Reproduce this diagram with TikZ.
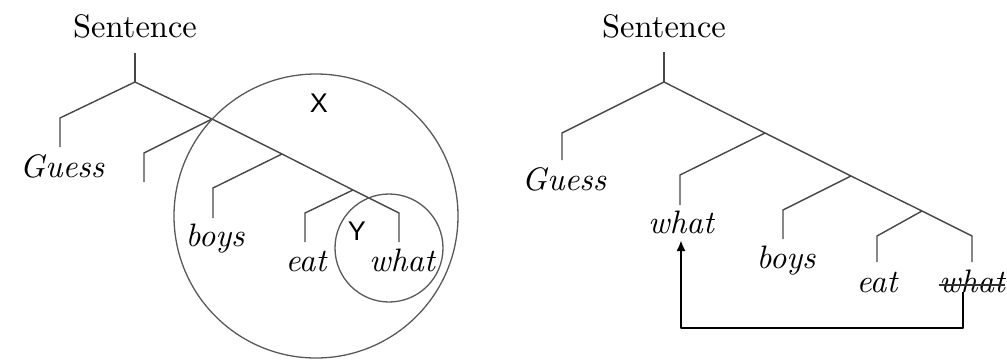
\documentclass[tikz,border=0pt]{standalone}
\usepackage{fontspec}
\setmainfont{Latin Modern Roman}
\newfontfamily\sansx{Liberation Sans}
\usetikzlibrary{arrows.meta,calc}
\begin{document}
\begin{tikzpicture}[x=1pt,y=-1pt,
  br/.style={draw=black!72,line width=1.4pt,line join=miter},
  ring/.style={draw=black!65,line width=1.3pt},
  word/.style={inner sep=0pt,anchor=base,scale=3.25,font=\fontsize{10}{12}\selectfont\itshape},
  head/.style={inner sep=0pt,anchor=base,scale=3.25,font=\fontsize{10}{12}\selectfont},
  lab/.style={inner sep=0pt,anchor=base,font=\fontsize{27}{32}\selectfont\sansx},
  move/.style={draw=black,line width=2.2pt,line join=round,-{Latex[length=11pt,width=9pt]}}]
\useasboundingbox (0,0) rectangle (1007,360);

% ---------- left tree ----------
\node[head] (s1) at (135,37) {Sentence};
\coordinate (s1t) at (135,53);
\coordinate (r1) at (135,82);
\coordinate (g1k) at (60,118);
\coordinate (g1b) at (60,147);
\node[word] (g1) at (62,177) {Guess};
\coordinate (n1) at (212,119);
\coordinate (e1k) at (144,153);
\coordinate (e1b) at (144,182);
\coordinate (n2) at (282,154);
\coordinate (b1k) at (213,188);
\coordinate (b1b) at (213,218);
\node[word] (b1) at (215,246) {boys};
\coordinate (n3) at (353,190);
\coordinate (a1k) at (305,213);
\coordinate (a1b) at (305,242);
\node[word] (a1) at (306,271) {eat};
\coordinate (w1k) at (399,213);
\coordinate (w1b) at (399,242);
\node[word] (w1) at (402,271) {what};

\draw[br] (s1t) -- (r1);
\draw[br] (g1b) -- (g1k) -- (r1) -- (n1) -- (n2) -- (n3) -- (w1k) -- (w1b);
\draw[br] (e1b) -- (e1k) -- (n1);
\draw[br] (b1b) -- (b1k) -- (n2);
\draw[br] (a1b) -- (a1k) -- (n3);

\node[ring,circle,minimum size=284pt,inner sep=0pt] (cx) at (316,216) {};
\node[ring,circle,minimum size=108pt,inner sep=0pt] (cy) at (389,248) {};
\node[lab] (lx) at (319,112) {X};
\node[lab] (ly) at (357,240) {Y};

% ---------- right tree ----------
\node[head] (s2) at (664,37) {Sentence};
\coordinate (s2t) at (664,52);
\coordinate (r2) at (664,82);
\coordinate (g2k) at (562,133);
\coordinate (g2b) at (562,160);
\node[word] (g2) at (564,190) {Guess};
\coordinate (m1) at (765,133);
\coordinate (q2k) at (680,175);
\coordinate (q2b) at (680,205);
\node[word] (wq) at (681,233) {what};
\coordinate (m2) at (851,176);
\coordinate (b2k) at (783,210);
\coordinate (b2b) at (783,239);
\node[word] (b2) at (786,268) {boys};
\coordinate (m3) at (922,211);
\coordinate (a2k) at (877,236);
\coordinate (a2b) at (877,262);
\node[word] (a2) at (877,292) {eat};
\coordinate (w2k) at (972,236);
\coordinate (w2b) at (972,262);
\node[word] (ws) at (972,292) {what};
\coordinate (low) at (0,328);

\draw[br] (s2t) -- (r2);
\draw[br] (g2b) -- (g2k) -- (r2) -- (m1) -- (m2) -- (m3) -- (w2k) -- (w2b);
\draw[br] (q2b) -- (q2k) -- (m1);
\draw[br] (b2b) -- (b2k) -- (m2);
\draw[br] (a2b) -- (a2k) -- (m3);
% strike-through
\draw[draw=black!80,line width=1.2pt] ([yshift=7pt]ws.base west) -- ([yshift=7pt]ws.base east);
% movement arrow
\draw[move] ([xshift=-9pt]ws.base) -- ([xshift=-9pt]ws.base |- low) -| ([yshift=-7pt]wq.base);
\end{tikzpicture}
\end{document}
